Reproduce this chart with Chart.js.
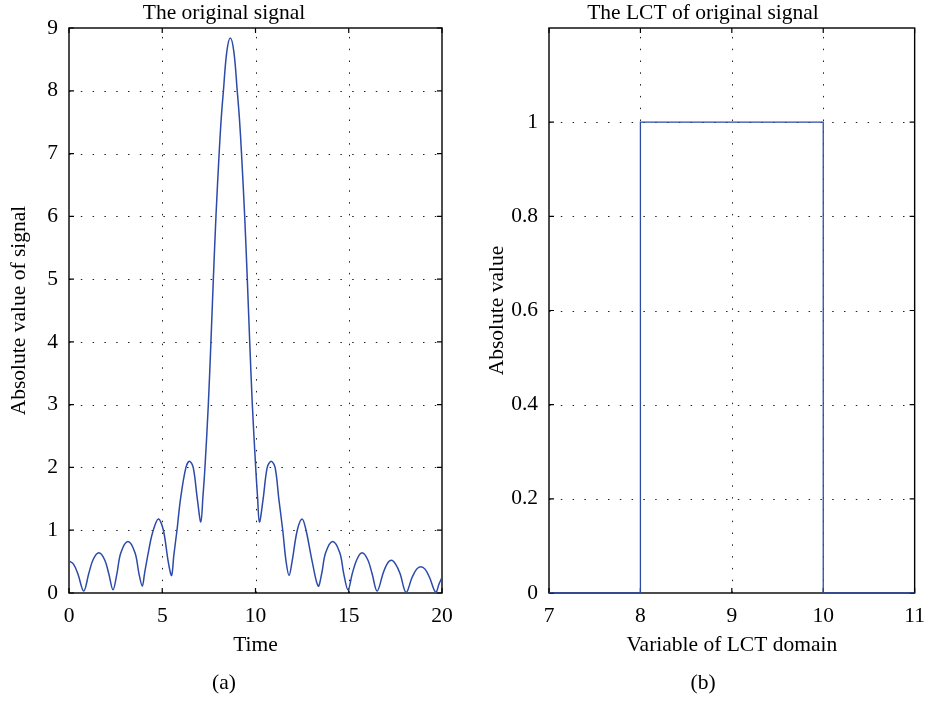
<!DOCTYPE html>
<html><head><meta charset="utf-8">
<script src="https://cdn.jsdelivr.net/npm/chart.js@4"></script>
<style>
html,body{margin:0;padding:0;background:#fff;}
#wrap{position:relative;width:935px;height:702px;overflow:hidden;}
canvas{position:absolute;top:0;}
</style></head><body>
<div id="wrap">
<canvas id="ca" width="470" height="702" style="left:0"></canvas>
<canvas id="cb" width="465" height="702" style="left:470px"></canvas>
</div>
<script>
// ---- data ----
const signalTime = [0, 0.24, 0.47, 0.79, 1.06, 1.29, 1.60, 1.91, 2.13, 2.36, 2.57, 2.78, 3.16, 3.54, 3.75, 3.93, 4.05, 4.25, 4.48, 4.79, 5.06, 5.32, 5.50, 5.62, 5.79, 5.98, 6.27, 6.46, 6.66, 6.88, 7.07, 7.18, 7.29, 7.47, 7.61, 7.74, 7.88, 8.05, 8.16, 8.28, 8.46, 8.65, 8.84, 9.02, 9.14, 9.25, 9.42, 9.56, 9.69, 9.83, 10.01, 10.11, 10.21, 10.41, 10.63, 10.84, 11.05, 11.25, 11.46, 11.64, 11.80, 11.96, 12.24, 12.50, 12.71, 13.04, 13.36, 13.55, 13.76, 14.14, 14.52, 14.73, 14.96, 15.19, 15.43, 15.71, 16.02, 16.25, 16.52, 16.84, 17.05, 17.28, 17.51, 17.75, 18.07, 18.40, 18.64, 18.86, 19.09, 19.33, 19.66, 19.85, 20];
const signalAbs = [0.51, 0.46, 0.31, 0.03, 0.31, 0.53, 0.64, 0.53, 0.31, 0.05, 0.31, 0.64, 0.82, 0.64, 0.31, 0.11, 0.31, 0.64, 0.96, 1.18, 1.00, 0.50, 0.28, 0.60, 1.00, 1.50, 2.00, 2.10, 2.00, 1.50, 1.13, 1.53, 2.00, 3.00, 4.00, 5.00, 6.00, 7.00, 7.55, 8.00, 8.62, 8.84, 8.62, 8.00, 7.55, 7.00, 6.00, 5.00, 4.00, 3.00, 2.00, 1.53, 1.13, 1.50, 2.00, 2.10, 2.00, 1.50, 1.00, 0.50, 0.28, 0.50, 1.00, 1.18, 1.00, 0.50, 0.11, 0.31, 0.64, 0.82, 0.64, 0.31, 0.05, 0.31, 0.53, 0.64, 0.53, 0.31, 0.03, 0.31, 0.46, 0.52, 0.46, 0.31, 0.01, 0.25, 0.38, 0.42, 0.38, 0.25, 0.01, 0.15, 0.25];
const lctVar = [7, 8, 8, 10, 10, 11];
const lctAbs = [0, 0, 1, 1, 0, 0];
const signalTimeTicks = [0, 5, 10, 15, 20];
const signalAbsTicks = [0, 1, 2, 3, 4, 5, 6, 7, 8, 9];
const lctVarTicks = [7, 8, 9, 10, 11];
const lctAbsTicks = [0, 0.2, 0.4, 0.6, 0.8, 1];

// ---- styling ----
const FONT = {family: '"Liberation Serif", "DejaVu Serif", serif', size: 21.5, weight: 'normal'};
const BLUE = '#2c4aa8';

const matlabAxes = {
  id: 'matlabAxes',
  beforeDatasetsDraw(chart) {
    const {ctx, chartArea: a, scales: {x, y}} = chart;
    ctx.save();
    // dotted grid
    ctx.strokeStyle = '#222';
    ctx.lineWidth = 1;
    ctx.setLineDash([1.5, 10.3]);
    x.ticks.forEach(t => {
      const px = Math.round(x.getPixelForValue(t.value)) + 0.5;
      if (px - a.left < 3 || a.right - px < 3) return;
      ctx.beginPath(); ctx.moveTo(px, a.bottom); ctx.lineTo(px, a.top); ctx.stroke();
    });
    y.ticks.forEach(t => {
      const py = Math.round(y.getPixelForValue(t.value)) + 0.5;
      if (py - a.top < 3 || a.bottom - py < 3) return;
      ctx.beginPath(); ctx.moveTo(a.left, py); ctx.lineTo(a.right, py); ctx.stroke();
    });
    ctx.setLineDash([]);
    // inward ticks
    ctx.strokeStyle = '#000';
    ctx.lineWidth = 1.2;
    const L = 5;
    x.ticks.forEach(t => {
      const px = x.getPixelForValue(t.value);
      ctx.beginPath();
      ctx.moveTo(px, a.bottom); ctx.lineTo(px, a.bottom - L);
      ctx.moveTo(px, a.top); ctx.lineTo(px, a.top + L);
      ctx.stroke();
    });
    y.ticks.forEach(t => {
      const py = y.getPixelForValue(t.value);
      ctx.beginPath();
      ctx.moveTo(a.left, py); ctx.lineTo(a.left + L, py);
      ctx.moveTo(a.right, py); ctx.lineTo(a.right - L, py);
      ctx.stroke();
    });
    // box
    ctx.lineWidth = 1.4;
    ctx.strokeRect(a.left, a.top, a.right - a.left, a.bottom - a.top);
    ctx.restore();
  }
};

const fmt = v => String(Math.round(v * 100) / 100);

function makeChart(id, cfg) {
  return new Chart(document.getElementById(id), {
    type: 'line',
    data: {datasets: [{
      data: cfg.xs.map((v, i) => ({x: v, y: cfg.ys[i]})),
      borderColor: BLUE,
      borderWidth: cfg.lw,
      pointRadius: 0,
      fill: false,
      tension: cfg.smooth ? 0.35 : 0,
      cubicInterpolationMode: 'default'
    }]},
    options: {
      responsive: false,
      animation: false,
      layout: {padding: {left: cfg.padL, right: cfg.padR, top: 0, bottom: 6}},
      plugins: {
        legend: {display: false},
        tooltip: {enabled: false},
        title: {display: true, text: cfg.title, font: FONT, color: '#000', padding: {top: 0, bottom: 2.2}},
        subtitle: {display: true, position: 'bottom', text: cfg.sub, font: FONT, color: '#000', padding: {top: 12, bottom: 0}}
      },
      scales: {
        x: {
          type: 'linear', min: cfg.xmin, max: cfg.xmax,
          grid: {display: false, drawTicks: false}, border: {display: false},
          ticks: {font: FONT, color: '#000', padding: 10, maxRotation: 0, autoSkip: false, callback: fmt},
          afterBuildTicks: s => { s.ticks = cfg.xt.map(v => ({value: v})); },
          afterFit: s => { s.height = 65.2; },
          title: {display: true, text: cfg.xlabel, font: FONT, color: '#000', padding: 0}
        },
        y: {
          type: 'linear', min: cfg.ymin, max: cfg.ymax,
          grid: {display: false, drawTicks: false}, border: {display: false},
          ticks: {font: FONT, color: '#000', padding: 11, autoSkip: false, callback: fmt},
          afterBuildTicks: s => { s.ticks = cfg.yt.map(v => ({value: v})); },
          afterFit: s => { s.width = cfg.yw; },
          title: {display: true, text: cfg.ylabel, font: FONT, color: '#000', padding: 0}
        }
      }
    },
    plugins: [matlabAxes]
  });
}

makeChart('ca', {
  xs: signalTime, ys: signalAbs, lw: 1.5, smooth: true,
  title: 'The original signal', sub: '(a)', xlabel: 'Time', ylabel: 'Absolute value of signal',
  xmin: 0, xmax: 20, ymin: 0, ymax: 9, xt: signalTimeTicks, yt: signalAbsTicks,
  padL: 6, padR: 28, yw: 63
});
makeChart('cb', {
  xs: lctVar, ys: lctAbs, lw: 1.3, smooth: false,
  title: 'The LCT of original signal', sub: '(b)', xlabel: 'Variable of LCT domain', ylabel: 'Absolute value',
  xmin: 7, xmax: 11, ymin: 0, ymax: 1.2, xt: lctVarTicks, yt: lctAbsTicks,
  padL: 14, padR: 13, yw: 65
});
</script>
</body></html>
